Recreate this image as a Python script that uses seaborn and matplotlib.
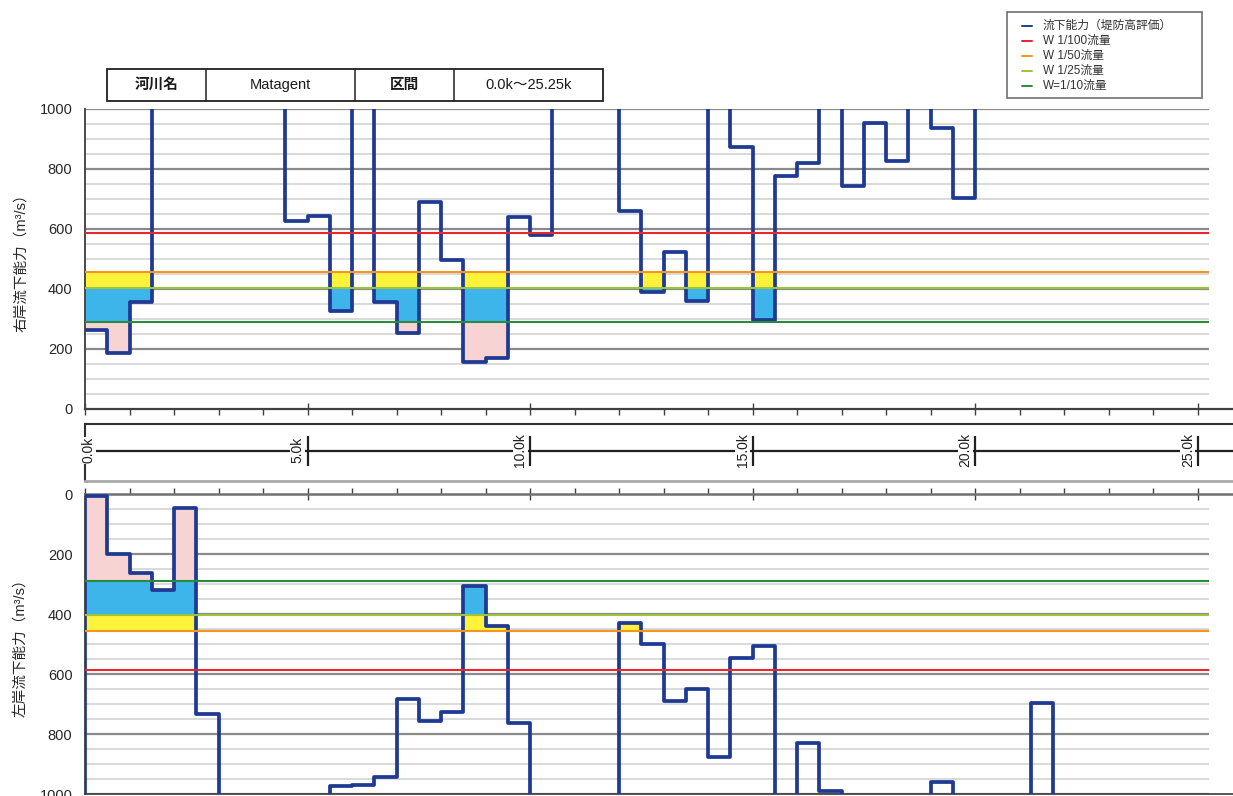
import numpy as np
import pandas as pd
import matplotlib
matplotlib.use("Agg")
import matplotlib.pyplot as plt
from matplotlib.patches import Rectangle
import seaborn as sns

# ---- data -----------------------------------------------------------------
END_KM = 25.25          # downstream end of the section
OFF_SCALE = 1200        # capacity beyond the 1000 m3/s axis limit

# Right bank capacity: value holds from each start km to the next one
right_km = [0.0, 0.5, 1.0, 1.5, 4.5, 5.0, 5.5, 6.0, 6.5, 7.0, 7.5, 8.0,
            8.5, 9.0, 9.5, 10.0, 10.5, 12.0, 12.5, 13.0, 13.5, 14.0, 14.5,
            15.0, 15.5, 16.0, 16.5, 17.0, 17.5, 18.0, 18.5, 19.0, 19.5, 20.0]
right_q = [265, 187, 357, OFF_SCALE, 627, 643, 327, OFF_SCALE, 357, 253,
           690, 497, 157, 170, 640, 580, OFF_SCALE, 660, 390, 523, 360,
           OFF_SCALE, 873, 297, 777, 820, OFF_SCALE, 743, 953, 827,
           OFF_SCALE, 937, 703, OFF_SCALE]

# Left bank capacity
left_km = [0.0, 0.5, 1.0, 1.5, 2.0, 2.5, 3.0, 5.5, 6.0, 6.5, 7.0, 7.5, 8.0,
           8.5, 9.0, 9.5, 10.0, 12.0, 12.5, 13.0, 13.5, 14.0, 14.5, 15.0,
           15.5, 16.0, 16.5, 17.0, 19.0, 19.5, 21.25, 21.75]
left_q = [5, 200, 263, 320, 47, 733, OFF_SCALE, 973, 970, 943, 683, 757, 727,
          307, 440, 763, OFF_SCALE, 430, 500, 690, 650, 877, 547, 507,
          OFF_SCALE, 830, 990, OFF_SCALE, 960, OFF_SCALE, 697, OFF_SCALE]

# Design discharges
flow_labels = ["W 1/100流量", "W 1/50流量", "W 1/25流量", "W=1/10流量"]
flow_values = [588, 458, 403, 290]
flow_colors = ["#e8262d", "#f5941f", "#9cc43c", "#2a8a3e"]

cap_label = "流下能力（堤防高評価）"
cap_color = "#1f3a93"

km_ticks = [0.0, 5.0, 10.0, 15.0, 20.0, 25.0]
km_labels = ["0.0k", "5.0k", "10.0k", "15.0k", "20.0k", "25.0k"]

river_name = "Matagent"
section_text = "0.0k～25.25k"

# shortage bands: (lower level, upper level, colour)
band_fill = [
    (None, 290, "#f7d3d3"),
    (290, 403, "#3db5ea"),
    (403, 458, "#fff23a"),
]

# ---- style ----------------------------------------------------------------
sns.set_theme(style="white")
plt.rcParams["font.family"] = ["Liberation Sans", "Noto Sans CJK JP"]
plt.rcParams["axes.unicode_minus"] = False

W, H = 1233, 796
fig = plt.figure(figsize=(W / 100, H / 100), dpi=100)
fig.patch.set_facecolor("white")

X_MAX = (W - 85) / 44.5
left = 85 / W
width = 1 - left


def fig_rect(top_px, bottom_px):
    return [left, 1 - bottom_px / H, width, (bottom_px - top_px) / H]


def draw_panel(ax, km, q, ylabel, inverted, lead_in=False):
    xs = list(km) + [END_KM]
    ys = list(q) + [q[-1]]
    if lead_in:
        xs = [km[0]] + xs
        ys = [OFF_SCALE] + ys
    df = pd.DataFrame({"km": xs, "q": ys})

    # horizontal grid every 50, stronger every 200
    for v in range(50, 1001, 50):
        major = v % 200 == 0
        ax.hlines(v, 0, END_KM, colors="#8a8a8a" if major else "#cfcfcf",
                  linewidth=1.6 if major else 1.1, zorder=1)

    # shortage fills (zero height where capacity is above the band)
    x_arr = np.array(list(km) + [END_KM], dtype=float)
    q_arr = np.array(list(q) + [q[-1]], dtype=float)
    for lo, hi, col in band_fill:
        low = np.minimum(q_arr, hi) if lo is None else np.clip(q_arr, lo, hi)
        ax.fill_between(x_arr, low, hi, step="post",
                        color=col, linewidth=0, zorder=2)

    sns.lineplot(data=df, x="km", y="q", ax=ax, estimator=None, sort=False,
                 drawstyle="steps-post", color=cap_color, linewidth=2.7,
                 zorder=3)

    for val, col in zip(flow_values, flow_colors):
        ax.hlines(val, 0, END_KM, colors=col, linewidth=1.5, zorder=4)

    ax.set_xlim(0, X_MAX)
    if inverted:
        ax.set_ylim(1000, 0)
    else:
        ax.set_ylim(0, 1000)
    ax.set_xlabel("")
    ax.set_ylabel(ylabel, fontsize=10.5, labelpad=8)
    ax.set_yticks(range(0, 1001, 200))
    ax.set_yticks(range(100, 1000, 200), minor=True)
    ax.set_yticklabels([str(v) for v in range(0, 1001, 200)], fontsize=10.5)
    ax.set_xticks(km_ticks)
    ax.set_xticks(np.arange(0, 26, 1.0), minor=True)
    ax.set_xticklabels([])
    ax.tick_params(axis="y", which="major", direction="out", length=5,
                   width=1, color="#505050", pad=4)
    ax.tick_params(axis="y", which="minor", direction="out", length=3,
                   width=1, color="#505050")
    ax.tick_params(axis="x", which="major", direction="inout", length=9,
                   width=1, color="#404040")
    ax.tick_params(axis="x", which="minor", direction="out", length=4,
                   width=1, color="#404040")
    for s in ax.spines.values():
        s.set_visible(False)
    ax.spines["left"].set_visible(True)
    ax.spines["left"].set_color("#4a4a4a")
    ax.spines["left"].set_linewidth(1.4)
    ax.set_facecolor("none")


# right bank (upper)
ax_r = fig.add_axes(fig_rect(109, 409))
draw_panel(ax_r, right_km, right_q, "右岸流下能力（m³/s）", inverted=False)
ax_r.spines["bottom"].set_visible(True)
ax_r.spines["bottom"].set_color("#404040")
ax_r.spines["bottom"].set_linewidth(1.6)
ax_r.xaxis.set_ticks_position("bottom")

# left bank (lower, downward axis)
ax_l = fig.add_axes(fig_rect(494, 794))
draw_panel(ax_l, left_km, left_q, "左岸流下能力（m³/s）", inverted=True,
           lead_in=True)
ax_l.spines["top"].set_visible(True)
ax_l.spines["top"].set_color("#707070")
ax_l.spines["top"].set_linewidth(1.8)
ax_l.spines["bottom"].set_visible(True)
ax_l.spines["bottom"].set_color("#404040")
ax_l.xaxis.set_ticks_position("top")
ax_l.tick_params(axis="x", which="both", bottom=False, top=True,
                 labelbottom=False, labeltop=False)

# distance strip between the panels
ax_m = fig.add_axes(fig_rect(424, 481))
ax_m.set_xlim(0, X_MAX)
ax_m.set_ylim(0, 1)
ax_m.set_xticks([])
ax_m.set_yticks([])
for s in ax_m.spines.values():
    s.set_visible(False)
ax_m.spines["top"].set_visible(True)
ax_m.spines["top"].set_color("#303030")
ax_m.spines["top"].set_linewidth(1.5)
ax_m.spines["left"].set_visible(True)
ax_m.spines["left"].set_color("#303030")
ax_m.spines["left"].set_linewidth(1.5)
ax_m.spines["bottom"].set_visible(True)
ax_m.spines["bottom"].set_color("#a8a8a8")
ax_m.spines["bottom"].set_linewidth(2.0)
ax_m.hlines(0.52, 0, X_MAX, colors="#202020", linewidth=1.6, zorder=1)
for k, lab in zip(km_ticks, km_labels):
    if k > 0:
        ax_m.vlines(k, 0.26, 0.79, colors="#202020", linewidth=1.6, zorder=2)
        ax_m.text(k - 0.06, 0.54, lab, rotation=90, ha="right", va="center",
                  fontsize=10, color="#202020", zorder=3,
                  bbox=dict(facecolor="white", edgecolor="none", pad=0.3))
    else:
        ax_m.text(k + 0.08, 0.54, lab, rotation=90, ha="center", va="center",
                  fontsize=10, color="#202020", zorder=3,
                  bbox=dict(facecolor="white", edgecolor="none", pad=0.3))

# header table
ax_h = fig.add_axes([107 / W, 1 - 101 / H, 496 / W, 32 / H])
ax_h.set_xlim(0, 496)
ax_h.set_ylim(0, 32)
ax_h.axis("off")
ax_h.add_patch(Rectangle((0, 0), 496, 32, fill=False, edgecolor="#202020",
                         linewidth=1.3, clip_on=False))
for xb in (99, 248, 347):
    ax_h.plot([xb, xb], [0, 32], color="#202020", linewidth=1.1)
cells = [(49.5, "河川名", "bold"), (173.5, river_name, "normal"),
         (297.5, "区間", "bold"), (421.5, section_text, "normal")]
for cx, txt, wt in cells:
    ax_h.text(cx, 16, txt, ha="center", va="center", fontsize=10.5,
              fontweight=wt, color="#1a1a1a")

# legend box
ax_g = fig.add_axes([1007 / W, 1 - 98 / H, 195 / W, 86 / H])
ax_g.set_xlim(0, 195)
ax_g.set_ylim(86, 0)
ax_g.axis("off")
ax_g.add_patch(Rectangle((0, 0), 195, 86, fill=False, edgecolor="#707070",
                         linewidth=1.2, clip_on=False))
legend_labels = [cap_label] + flow_labels
legend_colors = [cap_color] + flow_colors
for i, (lab, col) in enumerate(zip(legend_labels, legend_colors)):
    yy = 14 + i * 15
    ax_g.plot([15, 25], [yy, yy], color=col, linewidth=1.4)
    ax_g.text(36, yy, lab, ha="left", va="center", fontsize=8.5,
              color="#333333")

fig.savefig("out.png", dpi=100, facecolor="white")
